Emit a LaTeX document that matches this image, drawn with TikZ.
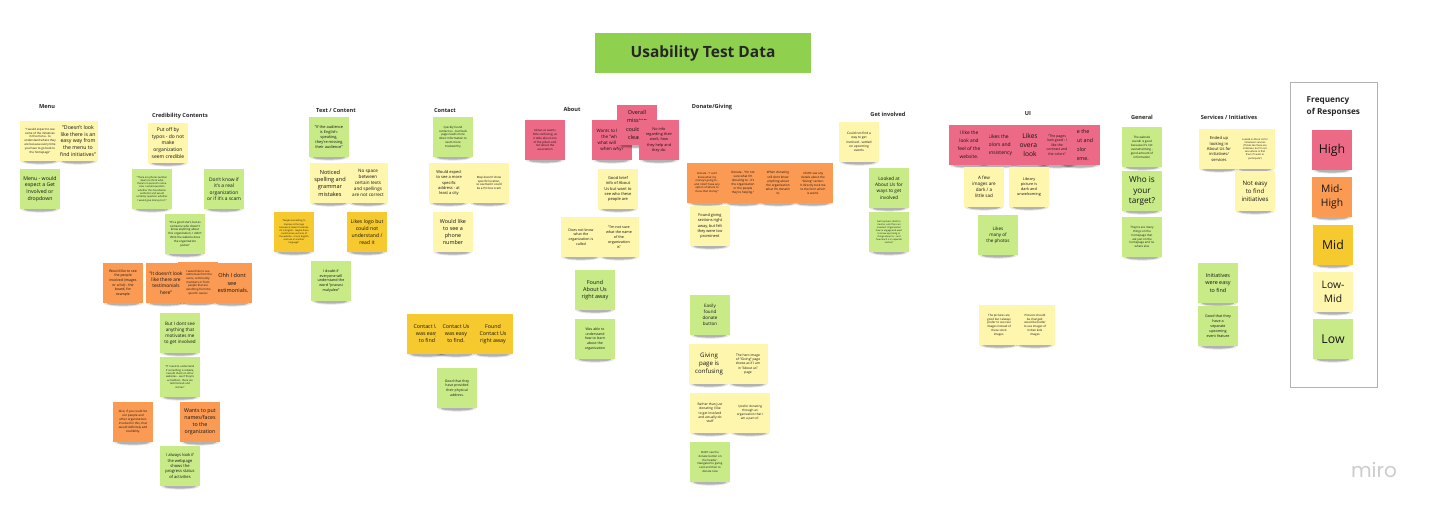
\documentclass[tikz,border=0pt]{standalone}
\usepackage{fontspec}
\setmainfont{Open Sans}
\newfontfamily\logofont{Poppins}
\definecolor{cHigh}{HTML}{EC6A85}
\definecolor{cMidHigh}{HTML}{FA9A53}
\definecolor{cMid}{HTML}{F6C92F}
\definecolor{cLowMid}{HTML}{FDF6AC}
\definecolor{cLow}{HTML}{C8EB88}
\definecolor{cText}{HTML}{141414}
\definecolor{titlegreen}{HTML}{8FD14F}
\tikzset{
  notebox/.style={rectangle,minimum width=40,minimum height=40,inner sep=0,outer sep=0,draw=none},
  notetext/.style={align=center,inner sep=0,text=cText},
  heading/.style={font=\bfseries\fontsize{5.6}{7}\selectfont,inner sep=0,text=black!85},
}
\newcommand\sticky[7][1.32]{%
  \begin{scope}[shift={(#3,#4)}]
    \fill[black,opacity=.10] (0,20.4) ellipse [x radius=19,y radius=3.2];
    \fill[black,opacity=.22] (0,20.4) ellipse [x radius=16,y radius=2.2];
  \end{scope}
  \node[notebox,fill=#5] (#2) at (#3,#4) {};
  \node[notetext,font=\fontsize{#6}{\fpeval{#6*#1}}\selectfont] (#2t) at (#3,#4) {#7};
}
\begin{document}
\begin{tikzpicture}[x=1pt,y=-1pt]
\path[use as bounding box,fill=white] (0,0) rectangle (1430,513);

% Title
\node[rectangle,minimum width=216,minimum height=40,inner sep=0,fill=titlegreen,font=\bfseries\fontsize{15.5}{18}\selectfont,text=black!85] (title) at (703,53) {Usability Test Data};

% Headings
\node[heading] (hMenu) at (47,107) {Menu};
\node[heading] (hCred) at (180,116) {Credibility Contents};
\node[heading] (hText) at (336,111) {Text / Content};
\node[heading] (hContact) at (445,111) {Contact};
\node[heading] (hAbout) at (572,109) {About};
\node[heading] (hDonate) at (712,107) {Donate/Giving};
\node[heading] (hGet) at (888,114) {Get involved};
\node[heading] (hUI) at (1028,114) {UI};
\node[heading] (hGeneral) at (1142,117) {General};
\node[heading] (hServ) at (1229,117) {Services / Initiatives};

% Menu
\sticky{m1}{40}{141}{cLowMid}{2.9}{"I would expect to see\\some of the initiatives\\in the menu - to\\understand where they\\are because every time\\you have to go back to\\the homepage"}
\sticky{m2}{78}{141}{cLowMid}{5.2}{"Doesn't look\\like there is an\\easy way from\\the menu to\\find initiatives"}
\sticky{m3}{40}{189}{cLow}{5.2}{Menu - would\\expect a Get\\Involved or\\dropdown}

% Credibility
\sticky{c1}{168}{143}{cLowMid}{5}{Put off by\\typos - do not\\make\\organization\\seem credible}
\sticky{c2}{152}{189}{cLow}{2.5}{"There are photos (written\\down) to think what\\there's no person's name.\\Like, I would question\\whether this foundation\\authentic and would\\certainly question whether\\I would give money to it."}
\sticky{c3}{224}{189}{cLow}{4.9}{Don't know if\\it's a real\\organization\\or if it's a scam}
\sticky{c4}{185}{234}{cLow}{2.9}{"It's a good start, but as\\someone who doesn't\\know anything about\\this organization, I didn't\\think the website does\\the organization\\justice"}
\sticky{c5}{123}{283}{cMidHigh}{3.5}{Would like to see\\the people\\involved (images\\or a list) - the\\board, for\\example}
\sticky{c8}{232}{283}{cMidHigh}{5.5}{Ohh I dont\\see\\testimonials.}
\sticky{c7}{198}{282.5}{cMidHigh}{2.8}{I would like to see\\testimonials from the\\users, community\\members or from\\people that are\\benefiting from the\\specific causes}
\sticky{c6}{166}{283}{cMidHigh}{4.8}{"It doesn't look\\like there are\\testimonials\\here"}
\sticky{c9}{180}{333}{cLow}{4.6}{But I dont see\\anything that\\motivates me\\to get involved}
\sticky{c10}{180}{377}{cLow}{2.6}{"If I need to understand\\if something is reliable,\\I would check on other\\websites - see if they're\\accredited - there are\\testimonials and\\stories"}
\sticky{c11}{133}{422}{cMidHigh}{3}{Also, if you could list\\our people and\\other organizations\\involved in this, that\\would definitely add\\credibility.}
\sticky{c12}{200}{422}{cMidHigh}{5.3}{Wants to put\\names/faces\\to the\\organization}
\sticky{c13}{180}{466}{cLow}{4.1}{I always look if\\the webpage\\shows the\\progress status\\of activities}

% Text / Content
\sticky{t1}{329}{137}{cLow}{3.9}{"If the audience\\is English-\\speaking,\\they're missing\\their audience"}
\sticky{t2}{330}{183}{cLowMid}{5.6}{Noticed\\spelling and\\grammar\\mistakes}
\sticky{t3}{368}{183}{cLowMid}{4.6}{No space\\between\\certain texts\\and spellings\\are not correct}
\sticky{t4}{294}{232}{cMid}{2.3}{"Maybe something to\\improve is the logo\\because it doesn't look like\\it's in English - maybe there\\could be two versions of\\the website - one in English\\and one in another\\language"}
\sticky{t5}{367}{232}{cMid}{5.1}{Likes logo but\\could not\\understand /\\read it}
\sticky{t6}{331}{281}{cLow}{3.7}{I doubt if\\everyone will\\understand the\\word "pravasi\\malyalee"}

% Contact
\sticky{k1}{453}{137}{cLow}{2.9}{Quickly found\\contact us - but feels\\page needs more\\direct information to\\seem more\\trustworthy}
\sticky{k2}{449}{183}{cLowMid}{4}{Would expect\\to see a more\\specific\\address - at\\least a city}
\sticky{k3}{489}{183}{cLowMid}{2.9}{Map doesn't show\\specific location,\\so seemed it could\\be a P.O box scam}
\sticky{k4}{453}{232}{cLowMid}{5.4}{Would like\\to see a\\phone\\number}
\sticky{k5}{427}{334}{cMid}{5.3}{Contact Us\\was easy\\to find}
\sticky{k6}{456}{334}{cMid}{5.3}{Contact Us\\was easy\\to find.}
\sticky{k7}{493}{334}{cMid}{5.3}{Found\\Contact Us\\right away}
\sticky{k8}{457}{388}{cLow}{3.5}{Good that they\\have  provided\\their physical\\address.}

% About
\sticky{a1}{545}{140}{cHigh}{2.9}{About us seems\\little confusing, as\\it talks about one\\of the pillars and\\not about the\\association}
\sticky{a2}{612}{140}{cHigh}{4.5}{Wants to know\\the "who,"\\what will I do,\\when why?}
\sticky[1.5]{a3}{637}{125}{cHigh}{5.5}{Overall\\mission\\could be\\clearer}
\sticky{a4}{659}{140}{cHigh}{3.8}{No info\\regarding their\\work, how\\they help and\\they do.}
\sticky{a5}{618}{189}{cLowMid}{4}{Good brief\\info of About\\Us but want to\\see who these\\people are}
\sticky{a6}{581}{237}{cLowMid}{3.6}{Does not know\\what the\\organization is\\called}
\sticky{a7}{619}{237}{cLowMid}{3.7}{"I'm not sure\\what the name\\of the\\organization\\is"}
\sticky{a8}{595}{290}{cLow}{5.5}{Found\\About Us\\right away}
\sticky{a9}{595}{339}{cLow}{3.5}{Was able to\\understand\\how to learn\\about the\\organization}

% Donate
\sticky{d1}{707}{183}{cMidHigh}{2.7}{Donate - "I can't\\know what my\\money's going to -\\and I don't have any\\option of where to\\focus that money"}
\sticky{d2}{743}{183}{cMidHigh}{3}{Donate - "I'm not\\sure what I'm\\donating to - it's\\the organization\\or the people\\they're helping."}
\sticky{d3}{778}{183}{cMidHigh}{3.1}{When donating\\still dont know\\anything about\\the organization\\what I'm donatin\\to}
\sticky{d4}{813}{183}{cMidHigh}{3}{I didnt see any\\details about the\\"Giving" section.\\It directly took me\\to the form which\\is weird.}
\sticky{d5}{710}{226}{cLowMid}{3.9}{Found giving\\sections right\\away, but felt\\they were too\\prominent}
\sticky{d6}{710}{315}{cLow}{4.5}{Easily\\found\\donate\\button}
\sticky{d7}{709}{364}{cLowMid}{6.1}{Giving\\page is\\confusing}
\sticky{d8}{748}{364}{cLowMid}{3.3}{The hero image\\of "Giving" page\\shows as if I am\\in "About us"\\page}
\sticky{d9}{710}{413}{cLowMid}{3.3}{Rather than just\\donating I like\\to get involved\\and actually do\\stuff}
\sticky{d10}{750}{413}{cLowMid}{3.1}{I prefer donating\\through an\\organization that I\\am a part of.}
\sticky{d11}{710}{462}{cLow}{2.8}{Didn't see the\\donate button on\\the header.\\Navigated to giving\\card and then to\\donate now}

% Get involved
\sticky{g1}{859}{142}{cLowMid}{3.2}{Could not find a\\way to get\\involved - settled\\on upcoming\\events}
\sticky{g2}{889}{188}{cLow}{4.7}{Looked at\\About Us for\\ways to get\\involved}
\sticky{g3}{889}{232}{cLow}{2.3}{Get Involved - Want to\\mentor, and this is an\\invested. Organization\\how to engage and want\\to know upcoming or\\things about Us - and\\how much is in separate\\section?}

% UI
\sticky[1.65]{u5}{1080}{145}{cHigh}{5.3}{Use the\\layout and\\color\\theme.}
\sticky[1.3]{u3}{1030}{145}{cHigh}{6.7}{Likes\\overall\\look}
\sticky[1.65]{u2}{998.5}{145}{cHigh}{5}{Likes the\\colors and\\consistency}
\sticky[1.65]{u1}{969}{145}{cHigh}{4.8}{I like the\\look and\\feel of the\\website.}
\sticky{u4}{1057}{145}{cHigh}{3.5}{"The pages\\look good - I\\like the\\contrast and\\the colors"}
\sticky{u6}{984}{187}{cLowMid}{4.6}{A few\\images are\\dark / a\\little sad}
\sticky{u7}{1029}{187}{cLowMid}{3.8}{Library\\picture is\\dark and\\unwelcoming}
\sticky{u8}{998}{235}{cLow}{4.6}{Likes\\many of\\the photos}
\sticky{u9}{999}{325}{cLowMid}{2.9}{The pictures are\\good but I always\\prefer to see real\\images instead of\\these stock\\images.}
\sticky{u10}{1035}{325}{cLowMid}{2.9}{Pictures should\\be changed,\\would be better\\to use images of\\Indian kids\\images}

% General
\sticky{n1}{1142}{147}{cLow}{3}{The website\\overall is good\\because it's not\\overwhelming -\\good amount of\\information}
\sticky{n2}{1142}{191}{cLow}{8.2}{Who is\\your\\target?}
\sticky{n3}{1142}{237}{cLow}{2.9}{They're are many\\things on the\\homepage that\\are just on the\\homepage and no\\where else}

% Services
\sticky{s1}{1219}{149}{cLowMid}{4.1}{Ended up\\looking in\\About Us for\\initiatives/\\services}
\sticky{s2}{1255}{149}{cLowMid}{2.4}{Looked in About Us for\\initiatives/ services\\(Thinks like these are\\initiatives, but I'm not\\sure where to find\\them if I want to\\participate")}
\sticky{s3}{1255}{191}{cLowMid}{6.1}{Not easy\\to find\\initiatives}
\sticky{s4}{1218}{283}{cLow}{5.4}{Initiatives\\were easy\\to find}
\sticky{s5}{1218}{326}{cLow}{3.7}{Good that they\\have a\\separate\\upcoming\\event feature}

% Legend
\draw[black!30,line width=.7] (1290,82) rectangle (1377,387);
\node[heading,align=left,anchor=north west,font=\bfseries\fontsize{8.2}{11.7}\selectfont] (hFreq) at (1306.5,96.5) {Frequency\\of Responses};
\sticky{l1}{1332}{150}{cHigh}{12.3}{High}
\sticky{l2}{1332}{197}{cMidHigh}{10.3}{Mid-\\High}
\sticky{l3}{1333}{245}{cMid}{12.3}{Mid}
\sticky{l4}{1333}{292}{cLowMid}{10.3}{Low-\\Mid}
\sticky{l5}{1333}{339}{cLow}{12.3}{Low}

% Logo
\node[font=\logofont\fontsize{20}{20}\selectfont,text=black!20,inner sep=0] (miro) at (1374,470) {miro};
\end{tikzpicture}
\end{document}
